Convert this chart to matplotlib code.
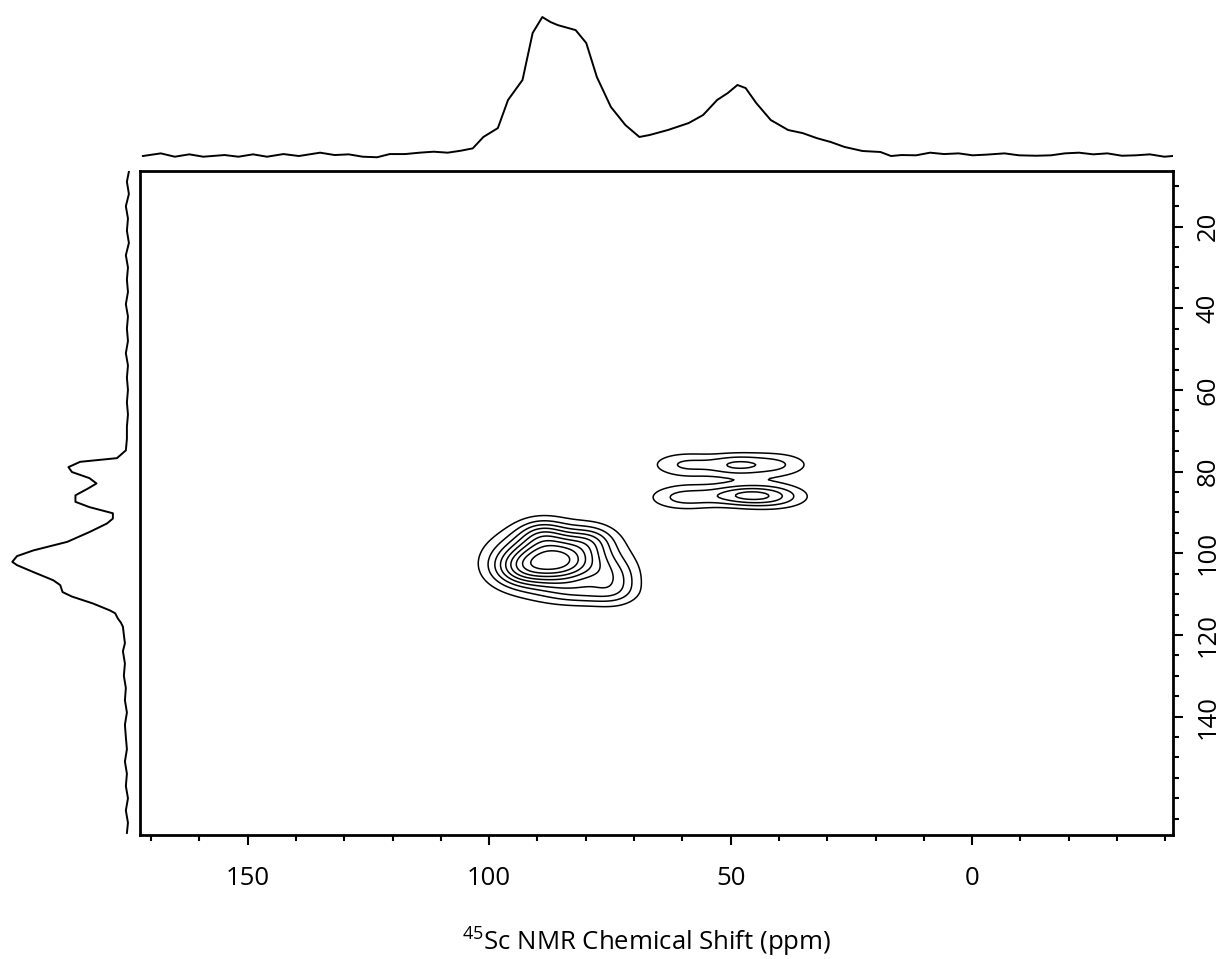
import numpy as np
import matplotlib.pyplot as plt
from matplotlib.ticker import MultipleLocator, FixedLocator

plt.rcParams['font.family'] = ['Open Sans', 'DejaVu Sans']
plt.rcParams['mathtext.fontset'] = 'custom'
plt.rcParams['mathtext.rm'] = 'Open Sans'

# top trace (direct dimension), ppm and normalised intensity
top_ppm = [171.7, 168.0, 165.1, 162.1, 159.2, 154.8, 151.9, 148.9, 146.0, 142.6,
           139.4, 135.0, 132.0, 129.1, 126.2, 123.2, 120.6, 117.4, 114.4, 111.5,
           108.6, 105.9, 103.4, 101.2, 98.2, 96.1, 93.1, 91.0, 89.0, 87.3,
           85.8, 82.1, 79.9, 77.7, 74.8, 71.8, 68.9, 66.8, 63.0, 58.7,
           55.7, 52.8, 50.6, 48.6, 46.9, 44.7, 41.7, 38.1, 35.1, 32.2,
           29.3, 26.4, 22.7, 19.0, 16.8, 14.6, 11.6, 8.7, 5.8, 2.8,
           -0.1, -3.0, -6.7, -9.7, -13.3, -16.3, -19.2, -22.1, -25.1, -28.0,
           -31.0, -33.9, -36.8, -39.8, -41.5]
top_int = [0.0, 0.019, -0.005, 0.012, -0.005, 0.007, -0.005, 0.012, -0.005, 0.014,
           0.0, 0.024, 0.007, 0.012, -0.005, -0.009, 0.014, 0.014, 0.024, 0.031,
           0.024, 0.038, 0.055, 0.137, 0.201, 0.403, 0.547, 0.885, 1.0, 0.964,
           0.942, 0.906, 0.813, 0.568, 0.353, 0.223, 0.137, 0.151, 0.187, 0.237,
           0.295, 0.403, 0.453, 0.511, 0.489, 0.381, 0.259, 0.187, 0.165, 0.129,
           0.101, 0.065, 0.036, 0.029, 0.0, 0.007, 0.005, 0.024, 0.014, 0.019,
           0.005, 0.010, 0.019, 0.005, 0.002, 0.005, 0.019, 0.024, 0.012, 0.019,
           0.002, 0.005, 0.012, -0.005, 0.0]

# left trace (indirect dimension)
left_ppm = [6.5, 9, 12, 15, 18, 21, 24, 27, 30, 33, 36, 39, 42, 45, 48, 51, 54, 57,
            60, 63, 66, 69, 72, 74.8, 76.7, 77.6, 78.9, 80.1, 81.6, 82.9, 84.1,
            85.8, 87.4, 88.7, 90.2, 91.5, 92.7, 94.8, 97.2, 99.3, 100.7, 102.1,
            102.9, 104.6, 106.6, 107.8, 109.5, 110.6, 112.3, 114.0, 114.7, 116.0,
            117, 118, 120, 122, 124, 127, 130, 133, 136, 139, 142, 145, 148, 151,
            154, 157, 160, 163, 166, 168.5]
left_int = [-0.017, 0.0, -0.017, 0.009, -0.009, 0.0, -0.017, 0.009, -0.009, 0.0,
            -0.009, 0.009, -0.009, 0.0, -0.009, 0.009, -0.009, 0.0, -0.009, 0.0,
            -0.009, 0.0, 0.0, 0.009, 0.085, 0.40, 0.50, 0.47, 0.32, 0.26, 0.33,
            0.44, 0.44, 0.32, 0.12, 0.12, 0.17, 0.32, 0.51, 0.80, 0.94, 0.98,
            0.94, 0.80, 0.63, 0.57, 0.55, 0.47, 0.29, 0.145, 0.10, 0.077,
            0.051, 0.034, 0.026, 0.017, 0.034, 0.017, 0.026, 0.009, 0.017, 0.0,
            0.017, 0.009, 0.0, 0.017, 0.0, 0.009, -0.009, 0.009, -0.009, 0.0]

# 2D cross peaks: centre (x, y), widths (x, y), height
pk_x = [89, 83, 94, 74, 89, 79, 80,
        49, 41, 59,
        47.7, 41, 59.5]
pk_y = [101.5, 102, 104, 107, 95, 96.5, 110,
        78.4, 78.3, 78.3,
        85.8, 86.1, 86.3]
pk_sx = [6.5, 6.5, 4, 3.5, 3.5, 3.5, 6,
         4.0, 5.0, 5.0,
         5.0, 5.0, 5.0]
pk_sy = [4.5, 4.5, 3, 3.5, 2.5, 2.5, 2,
         1.9, 2.05, 2.05,
         1.8, 2.05, 2.05]
pk_h = [0.55, 0.45, 0.2, 0.22, 0.2, 0.17, 0.15,
        0.22, 0.2, 0.2,
        0.3, 0.22, 0.22]
level_frac = [0.1, 0.2, 0.3, 0.4, 0.5, 0.6, 0.7, 0.8, 0.9]

xg = np.linspace(-45, 175, 661)
yg = np.linspace(0, 175, 526)
X, Y = np.meshgrid(xg, yg)
Z = np.zeros_like(X)
for cx, cy, sx, sy, h in zip(pk_x, pk_y, pk_sx, pk_sy, pk_h):
    Z += h * np.exp(-((X - cx) ** 2) / (2 * sx ** 2) - ((Y - cy) ** 2) / (2 * sy ** 2))

xlim = (172.3, -41.6)
ylim = (169.0, 6.3)

fig = plt.figure(figsize=(12.26, 9.59), dpi=100)
ax = fig.add_axes([0.1142, 0.1293, 0.8426, 0.6927])
ax_top = fig.add_axes([0.1142, 0.8279, 0.8426, 0.1668])
ax_left = fig.add_axes([0.0, 0.1293, 0.110, 0.6927])

ax.contour(X, Y, Z, levels=[f * Z.max() for f in level_frac], colors='black', linewidths=1.1)
ax.set_xlim(xlim)
ax.set_ylim(ylim)

for s in ax.spines.values():
    s.set_linewidth(2.0)
ax.xaxis.set_major_locator(MultipleLocator(50))
ax.xaxis.set_minor_locator(MultipleLocator(10))
ax.yaxis.set_major_locator(FixedLocator([20, 40, 60, 80, 100, 120, 140]))
ax.yaxis.set_minor_locator(MultipleLocator(5))
ax.yaxis.tick_right()
ax.tick_params(which='major', direction='out', length=7, width=1.5, labelsize=18.5)
ax.tick_params(which='minor', direction='out', length=4.3, width=1.5)
ax.tick_params(axis='x', which='major', pad=15)
ax.tick_params(axis='y', which='major', pad=9)
for lab in ax.get_yticklabels():
    lab.set_rotation(90)
    lab.set_va('center')
ax.set_xlabel(r'$^{45}$Sc NMR Chemical Shift (ppm)', fontsize=18.5)
ax.xaxis.set_label_coords(0.49, -0.134)

ax_top.plot(top_ppm, top_int, color='black', linewidth=1.4)
ax_top.set_xlim(xlim)
ax_top.set_ylim(-0.065, 1.086)
ax_top.axis('off')

ax_left.plot(left_int, left_ppm, color='black', linewidth=1.4)
ax_left.set_xlim(1.085, -0.068)
ax_left.set_ylim(ylim)
ax_left.axis('off')

fig.savefig('out.png', dpi=100)
